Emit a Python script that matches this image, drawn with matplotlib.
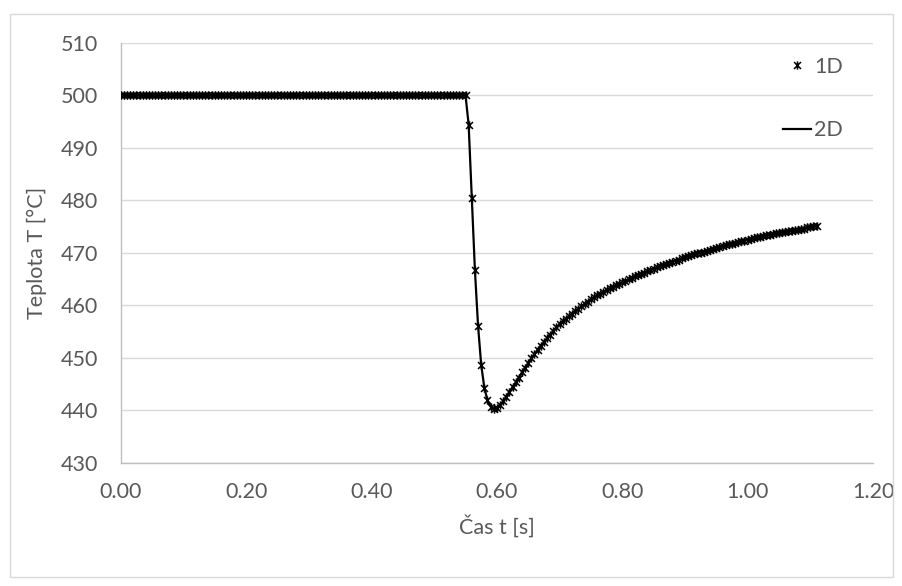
import matplotlib
matplotlib.use("Agg")
import matplotlib.pyplot as plt
from matplotlib.lines import Line2D
from matplotlib.patches import Rectangle
from matplotlib.path import Path

# Time samples [s]
time_s = [
    0.000, 0.005, 0.010, 0.015, 0.020, 0.025, 0.030, 0.035, 0.040, 0.045,
    0.050, 0.055, 0.060, 0.065, 0.070, 0.075, 0.080, 0.085, 0.090, 0.095,
    0.100, 0.105, 0.110, 0.115, 0.120, 0.125, 0.130, 0.135, 0.140, 0.145,
    0.150, 0.155, 0.160, 0.165, 0.170, 0.175, 0.180, 0.185, 0.190, 0.195,
    0.200, 0.205, 0.210, 0.215, 0.220, 0.225, 0.230, 0.235, 0.240, 0.245,
    0.250, 0.255, 0.260, 0.265, 0.270, 0.275, 0.280, 0.285, 0.290, 0.295,
    0.300, 0.305, 0.310, 0.315, 0.320, 0.325, 0.330, 0.335, 0.340, 0.345,
    0.350, 0.355, 0.360, 0.365, 0.370, 0.375, 0.380, 0.385, 0.390, 0.395,
    0.400, 0.405, 0.410, 0.415, 0.420, 0.425, 0.430, 0.435, 0.440, 0.445,
    0.450, 0.455, 0.460, 0.465, 0.470, 0.475, 0.480, 0.485, 0.490, 0.495,
    0.500, 0.505, 0.510, 0.515, 0.520, 0.525, 0.530, 0.535, 0.540, 0.545,
    0.550, 0.555, 0.560, 0.565, 0.570, 0.575, 0.580, 0.585, 0.590, 0.595,
    0.600, 0.605, 0.610, 0.615, 0.620, 0.625, 0.630, 0.635, 0.640, 0.645,
    0.650, 0.655, 0.660, 0.665, 0.670, 0.675, 0.680, 0.685, 0.690, 0.695,
    0.700, 0.705, 0.710, 0.715, 0.720, 0.725, 0.730, 0.735, 0.740, 0.745,
    0.750, 0.755, 0.760, 0.765, 0.770, 0.775, 0.780, 0.785, 0.790, 0.795,
    0.800, 0.805, 0.810, 0.815, 0.820, 0.825, 0.830, 0.835, 0.840, 0.845,
    0.850, 0.855, 0.860, 0.865, 0.870, 0.875, 0.880, 0.885, 0.890, 0.895,
    0.900, 0.905, 0.910, 0.915, 0.920, 0.925, 0.930, 0.935, 0.940, 0.945,
    0.950, 0.955, 0.960, 0.965, 0.970, 0.975, 0.980, 0.985, 0.990, 0.995,
    1.000, 1.005, 1.010, 1.015, 1.020, 1.025, 1.030, 1.035, 1.040, 1.045,
    1.050, 1.055, 1.060, 1.065, 1.070, 1.075, 1.080, 1.085, 1.090, 1.095,
    1.100, 1.105, 1.110,
]

# Temperature [°C] - 1D model
temp_1d = [
    500.0, 500.0, 500.0, 500.0, 500.0, 500.0, 500.0, 500.0, 500.0, 500.0,
    500.0, 500.0, 500.0, 500.0, 500.0, 500.0, 500.0, 500.0, 500.0, 500.0,
    500.0, 500.0, 500.0, 500.0, 500.0, 500.0, 500.0, 500.0, 500.0, 500.0,
    500.0, 500.0, 500.0, 500.0, 500.0, 500.0, 500.0, 500.0, 500.0, 500.0,
    500.0, 500.0, 500.0, 500.0, 500.0, 500.0, 500.0, 500.0, 500.0, 500.0,
    500.0, 500.0, 500.0, 500.0, 500.0, 500.0, 500.0, 500.0, 500.0, 500.0,
    500.0, 500.0, 500.0, 500.0, 500.0, 500.0, 500.0, 500.0, 500.0, 500.0,
    500.0, 500.0, 500.0, 500.0, 500.0, 500.0, 500.0, 500.0, 500.0, 500.0,
    500.0, 500.0, 500.0, 500.0, 500.0, 500.0, 500.0, 500.0, 500.0, 500.0,
    500.0, 500.0, 500.0, 500.0, 500.0, 500.0, 500.0, 500.0, 500.0, 500.0,
    500.0, 500.0, 500.0, 500.0, 500.0, 500.0, 500.0, 500.0, 500.0, 500.0,
    500.0, 494.4, 480.5, 466.7, 456.1, 448.7, 444.3, 441.9, 440.7, 440.3,
    440.5, 441.0, 441.7, 442.6, 443.5, 444.4, 445.3, 446.2, 447.2, 448.1,
    449.0, 449.9, 450.7, 451.5, 452.3, 453.0, 453.7, 454.4, 455.1, 455.8,
    456.4, 456.9, 457.4, 457.9, 458.4, 458.9, 459.3, 459.8, 460.2, 460.7,
    461.1, 461.5, 461.9, 462.2, 462.6, 462.9, 463.2, 463.5, 463.8, 464.1,
    464.4, 464.7, 464.9, 465.2, 465.5, 465.7, 466.0, 466.2, 466.5, 466.7,
    466.9, 467.2, 467.4, 467.6, 467.9, 468.1, 468.3, 468.5, 468.7, 468.9,
    469.1, 469.3, 469.5, 469.7, 469.9, 470.0, 470.2, 470.4, 470.6, 470.7,
    470.9, 471.1, 471.2, 471.4, 471.6, 471.7, 471.9, 472.0, 472.2, 472.3,
    472.5, 472.6, 472.8, 472.9, 473.0, 473.2, 473.3, 473.4, 473.5, 473.7,
    473.8, 473.9, 474.0, 474.1, 474.2, 474.3, 474.4, 474.5, 474.6, 474.8,
    474.9, 475.0, 475.1,
]

# Temperature [°C] - 2D model (coincides with the 1D result)
temp_2d = temp_1d

x_ticks = [0.0, 0.2, 0.4, 0.6, 0.8, 1.0, 1.2]
y_ticks = [430, 440, 450, 460, 470, 480, 490, 500, 510]

TEXT = "#595959"
GRID = "#d9d9d9"
FONT = ["Lato", "DejaVu Sans"]

plt.rcParams["font.family"] = FONT

# Star marker: a cross with a vertical stroke through its centre
STAR = Path(
    [(-1, -1), (1, 1), (-1, 1), (1, -1), (0, -1.2), (0, 1.2)],
    [Path.MOVETO, Path.LINETO, Path.MOVETO, Path.LINETO, Path.MOVETO, Path.LINETO],
)
MARKER_KW = dict(marker=STAR, markersize=6.0, markeredgewidth=1.1,
                 color="black")

W, H = 903, 586
fig = plt.figure(figsize=(W / 100, H / 100), dpi=100)
fig.patch.set_facecolor("white")

# Outer chart frame
fig.patches.append(Rectangle((10 / W, 1 - 577 / H), 883 / W, 563 / H,
                             transform=fig.transFigure, fill=False,
                             edgecolor=GRID, linewidth=1.0))

ax = fig.add_axes([120.7 / W, 1 - 462.7 / H, (873 - 120.7) / W, (462.7 - 42.7) / H])

ax.plot(time_s, temp_2d, color="black", linewidth=1.6, zorder=3)
ax.plot(time_s, temp_1d, linestyle="none", zorder=4, **MARKER_KW)

ax.set_xlim(0.0, 1.2)
ax.set_ylim(430, 510)
ax.set_xticks(x_ticks)
ax.set_yticks(y_ticks)
ax.set_xticklabels([f"{v:.2f}" for v in x_ticks])
ax.set_yticklabels([str(v) for v in y_ticks])

ax.grid(axis="y", color=GRID, linewidth=1.0, zorder=0)
ax.set_axisbelow(True)
for side in ("top", "right"):
    ax.spines[side].set_visible(False)
for side in ("left", "bottom"):
    ax.spines[side].set_color("#bfbfbf")
    ax.spines[side].set_linewidth(1.0)

ax.tick_params(axis="both", length=0, labelsize=15.5, labelcolor=TEXT)
ax.tick_params(axis="y", pad=16)
ax.tick_params(axis="x", pad=14)

ax.set_xlabel("Čas t [s]", fontsize=15.5, color=TEXT, labelpad=9)
ax.set_ylabel("Teplota T [°C]", fontsize=15.5, color=TEXT, labelpad=10)

handles = [
    Line2D([], [], linestyle="none", **MARKER_KW),
    Line2D([], [], color="black", linewidth=1.6),
]
leg = fig.legend(handles, ["1D", "2D"], loc="upper left",
                 bbox_to_anchor=(783 / W, 1 - 57 / H),
                 frameon=False, fontsize=15.5, labelcolor=TEXT,
                 handlelength=1.3, handletextpad=0.15, labelspacing=2.0,
                 borderpad=0, borderaxespad=0)

fig.savefig("out.png", dpi=100, facecolor="white")
